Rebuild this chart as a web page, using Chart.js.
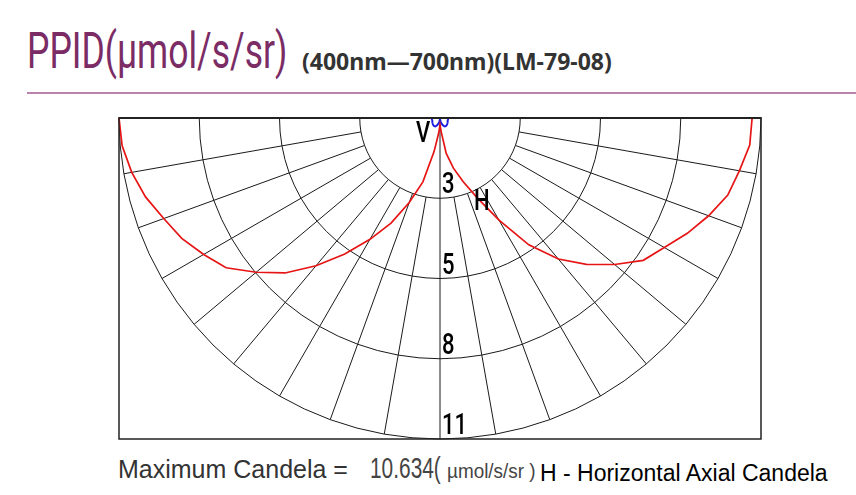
<!DOCTYPE html>
<html>
<head>
<meta charset="utf-8">
<script src="https://cdn.jsdelivr.net/npm/chart.js@4.4.0/dist/chart.umd.min.js"></script>
<style>
  html, body { margin: 0; padding: 0; background: #fff; }
  body { width: 856px; height: 495px; position: relative; overflow: hidden; }
  .txt { position: absolute; white-space: nowrap; line-height: 1; transform-origin: 0 0; }
  #titulo { left: 27px; top: 26px; font-family: Roboto, "Liberation Sans", sans-serif; font-weight: 400; font-size: 50px; color: #7b2c65; transform: scaleX(0.71); }
  #subtitulo { left: 302px; top: 50px; font-family: "Noto Sans", sans-serif; font-weight: bold; font-size: 23px; color: #333; }
  #linha { position: absolute; left: 27px; top: 92px; width: 829px; height: 2px; background: #b884ad; }
  #grafico { position: absolute; }
  #max1 { left: 118px; top: 457px; font-family: "Liberation Sans", Arial, sans-serif; font-size: 25px; color: #333; }
  #max2 { left: 370px; top: 454px; font-family: "Liberation Sans", Arial, sans-serif; font-size: 29px; color: #444; transform: scaleX(0.72); }
  #max3 { left: 447px; top: 460px; font-family: "Liberation Sans", Arial, sans-serif; font-size: 21px; color: #444; transform: scaleX(0.9); }
  #legenda { left: 540px; top: 462px; font-family: "Liberation Sans", Arial, sans-serif; font-size: 23px; color: #000; }
</style>
</head>
<body>
<div class="txt" id="titulo">PPID(µmol/s/sr)</div>
<div class="txt" id="subtitulo">(400nm—700nm)(LM-79-08)</div>
<div id="linha"></div>
<canvas id="grafico" width="652" height="652"></canvas>
<div class="txt" id="max1">Maximum Candela =</div>
<div class="txt" id="max2">10.634(</div>
<div class="txt" id="max3">µmol/s/sr )</div>
<div class="txt" id="legenda">H - Horizontal Axial Candela</div>
<script>
// angulos do diagrama polar (0 = para baixo, sentido horario na tela)
const angulos = [0,5,10,15,20,25,30,35,40,45,50,55,60,65,70,75,80,85,
  90,95,100,105,110,115,120,125,130,135,140,145,150,155,160,165,170,175,
  180,185,190,195,200,205,210,215,220,225,230,235,240,245,250,255,260,265,
  270,275,280,285,290,295,300,305,310,315,320,325,330,335,340,345,350,355];

// valores, de 0 a 90 graus a cada 5 graus
const h_esquerda = [0.23,0.50,1.13,2.19,2.98,3.84,4.64,5.50,6.39,7.26,7.95,8.65,9.04,9.44,9.74,10.10,10.37,10.57,10.634];
const h_direita  = [0.23,0.46,1.19,1.72,2.25,2.92,3.91,5.13,6.10,6.86,7.55,8.22,8.58,9.04,9.47,9.87,10.07,10.30,10.34];
const v_esquerda = [0.02,0.06,0.12,0.18,0.24,0.29,0.32,0.33,0.33,0.32,0.31,0.30,0.29,0.28,0.27,0.27,0.27,0.27,0.27];
const v_direita  = [0.02,0.06,0.12,0.18,0.24,0.29,0.32,0.33,0.33,0.32,0.31,0.30,0.29,0.28,0.27,0.27,0.27,0.27,0.27];

const candela_max = 10.634;

// monta a serie completa (metade de cima fica vazia)
function montarSerie(esq, dir) {
  const serie = [];
  for (let i = 0; i < angulos.length; i++) {
    const a = angulos[i];
    if (a <= 90) serie.push(esq[a / 5]);
    else if (a >= 270) serie.push(dir[(360 - a) / 5]);
    else serie.push(null);
  }
  return serie;
}

// texto estreito (nao tem fonte narrow instalada, entao comprime na horizontal)
function textoEstreito(ctx, txt, x, y) {
  ctx.save();
  ctx.translate(x, y);
  ctx.scale(0.76, 1);
  ctx.fillText(txt, 0, 0);
  ctx.restore();
}

const gradePolar = {
  id: 'gradePolar',
  beforeDraw(chart) {
    const r = chart.scales.r;
    chart.ctx.save();
    chart.ctx.beginPath();
    chart.ctx.rect(0, r.yCenter - 1, chart.width, chart.height);
    chart.ctx.clip();
  },
  beforeDatasetsDraw(chart) {
    const r = chart.scales.r;
    const ctx = chart.ctx;
    const rIn = r.getDistanceFromCenterForValue(r.ticks[1].value);
    const rOut = r.getDistanceFromCenterForValue(r.max);
    ctx.save();
    ctx.strokeStyle = '#1a1a1a';
    ctx.lineWidth = 1;
    ctx.beginPath();
    for (let i = 2; i < angulos.length; i += 2) {
      if (angulos[i] >= 90 && angulos[i] <= 270) continue;
      const p1 = r.getPointPosition(i, rIn);
      const p2 = r.getPointPosition(i, rOut);
      ctx.moveTo(p1.x, p1.y);
      ctx.lineTo(p2.x, p2.y);
    }
    const pb = r.getPointPosition(0, rOut);
    ctx.moveTo(r.xCenter, r.yCenter);
    ctx.lineTo(pb.x, pb.y);
    ctx.stroke();
    ctx.restore();
  },
  afterDatasetsDraw(chart) {
    const r = chart.scales.r;
    const ctx = chart.ctx;
    const R = r.getDistanceFromCenterForValue(r.max);
    ctx.save();
    // moldura
    ctx.strokeStyle = '#222';
    ctx.lineWidth = 1.5;
    ctx.strokeRect(r.xCenter - R, r.yCenter, 2 * R, R);
    ctx.lineWidth = 2;
    ctx.beginPath();
    ctx.moveTo(r.xCenter - R, r.yCenter);
    ctx.lineTo(r.xCenter + R, r.yCenter);
    ctx.stroke();
    // rotulos do raio
    ctx.fillStyle = '#000';
    ctx.font = '500 29px Roboto, "Liberation Sans", sans-serif';
    ctx.textAlign = 'left';
    ctx.textBaseline = 'alphabetic';
    for (let i = 1; i < r.ticks.length; i++) {
      const d = r.getDistanceFromCenterForValue(r.ticks[i].value);
      textoEstreito(ctx, String(Math.round(r.ticks[i].value)), r.xCenter + 2, r.yCenter + d - 5);
    }
    // V e H
    textoEstreito(ctx, 'V', r.xCenter - 24, r.yCenter + 24);
    textoEstreito(ctx, 'H', r.xCenter + 34, r.yCenter + 92);
    ctx.restore();
  },
  afterDraw(chart) {
    chart.ctx.restore();
  }
};

const grafico = new Chart(document.getElementById('grafico'), {
  type: 'radar',
  data: {
    labels: angulos,
    datasets: [
      {
        label: 'H',
        data: montarSerie(h_esquerda, h_direita),
        borderColor: 'rgb(230, 20, 20)',
        borderWidth: 1.7,
        pointRadius: 0,
        fill: false,
        tension: 0
      },
      {
        label: 'V',
        data: montarSerie(v_esquerda, v_direita),
        borderColor: 'rgb(30, 30, 225)',
        borderWidth: 2,
        pointRadius: 0,
        fill: false,
        tension: 0
      }
    ]
  },
  options: {
    responsive: false,
    animation: false,
    layout: { padding: 5 },
    plugins: { legend: { display: false }, tooltip: { enabled: false } },
    scales: {
      r: {
        min: 0,
        max: candela_max,
        startAngle: 180,
        ticks: { display: false, count: 5 },
        pointLabels: { display: false },
        angleLines: { display: false },
        grid: { color: '#1a1a1a', lineWidth: 1 }
      }
    }
  },
  plugins: [gradePolar]
});

// posiciona o canvas para o centro do diagrama ficar em (440, 118)
const escala = grafico.scales.r;
const cv = document.getElementById('grafico');
cv.style.left = (440 - escala.xCenter) + 'px';
cv.style.top = (118 - escala.yCenter) + 'px';
</script>
</body>
</html>
